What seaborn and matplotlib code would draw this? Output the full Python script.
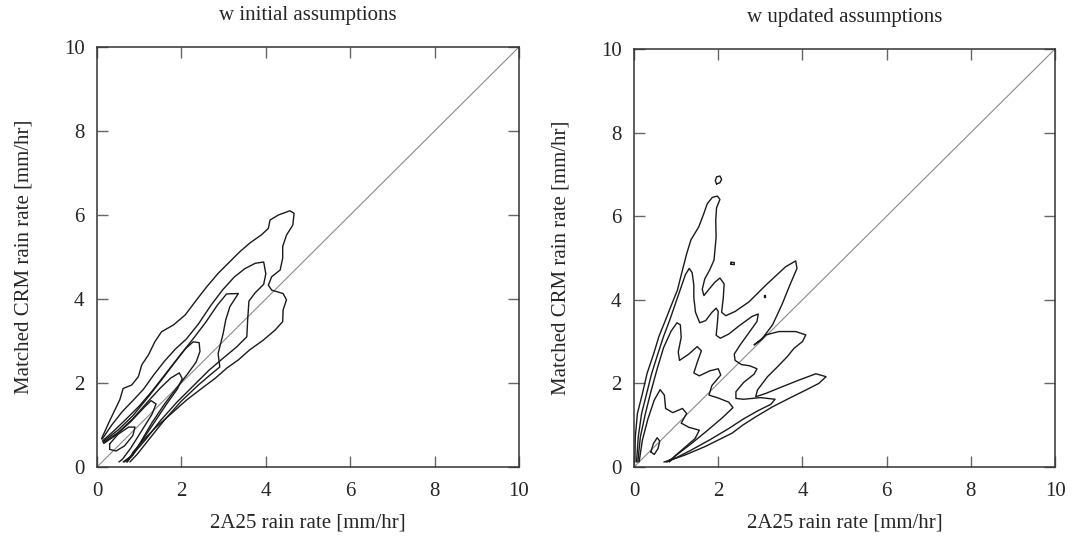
#!/usr/bin/env python3
import matplotlib
matplotlib.use("Agg")
import matplotlib.pyplot as plt
import pandas as pd
import seaborn as sns

# contour outlines (x = 2A25 rate, y = CRM rate, mm/hr)
left_c1 = [(0.11, 0.68), (0.31, 1.12), (0.54, 1.60), (0.62, 1.87), (0.82, 1.95), (0.98, 2.15),
           (1.06, 2.43), (1.22, 2.67), (1.37, 2.98), (1.53, 3.22), (1.81, 3.38), (2.09, 3.62),
           (2.36, 3.98), (2.60, 4.29), (2.87, 4.61), (3.11, 4.85), (3.39, 5.13), (3.62, 5.33),
           (3.90, 5.53), (4.06, 5.68), (4.10, 5.88), (4.30, 6.00), (4.57, 6.10), (4.67, 6.04),
           (4.64, 5.76), (4.49, 5.52), (4.40, 5.25), (4.40, 4.97), (4.34, 4.69), (4.14, 4.53),
           (4.06, 4.33), (4.14, 4.21), (4.41, 4.13), (4.49, 3.98), (4.41, 3.74), (4.40, 3.46),
           (4.22, 3.26), (3.94, 3.02), (3.62, 2.79), (3.35, 2.55), (3.07, 2.35), (2.80, 2.11),
           (2.48, 1.87), (2.13, 1.60), (1.77, 1.28), (1.41, 0.96), (1.10, 0.64), (0.86, 0.36),
           (0.72, 0.12)]
left_c2 = [(0.12, 0.66), (0.35, 1.00), (0.60, 1.32), (0.85, 1.58), (1.10, 1.85), (1.35, 2.20),
           (1.60, 2.52), (1.85, 2.80), (2.12, 3.05), (2.40, 3.40), (2.70, 3.85), (2.98, 4.22),
           (3.25, 4.52), (3.50, 4.72), (3.75, 4.85), (3.95, 4.88), (4.00, 4.60), (3.95, 4.35),
           (3.75, 4.15), (3.60, 3.95), (3.57, 3.50), (3.55, 3.10), (3.30, 2.85), (3.00, 2.60),
           (2.65, 2.30), (2.30, 1.95), (1.90, 1.55), (1.50, 1.10), (1.15, 0.65), (0.85, 0.30),
           (0.65, 0.12)]
left_c3 = [(0.13, 0.62), (0.40, 0.86), (0.70, 1.15), (1.00, 1.45), (1.30, 1.80), (1.65, 2.25),
           (2.00, 2.70), (2.30, 3.08), (2.58, 3.45), (2.85, 3.85), (3.07, 4.12), (3.35, 4.13),
           (3.15, 3.82), (3.05, 3.50), (2.99, 3.18), (2.87, 2.70), (2.91, 2.38), (2.75, 2.25),
           (2.40, 1.95), (2.00, 1.57), (1.60, 1.12), (1.25, 0.68), (0.95, 0.30), (0.78, 0.12)]
left_c4 = [(0.14, 0.60), (0.50, 0.88), (0.85, 1.22), (1.20, 1.65), (1.55, 2.10), (1.85, 2.50),
           (2.10, 2.82), (2.28, 2.98), (2.42, 2.96), (2.44, 2.75), (2.35, 2.50), (2.15, 2.22),
           (1.90, 1.90), (1.60, 1.50), (1.30, 1.05), (1.05, 0.62), (0.85, 0.28), (0.70, 0.12)]
left_c5 = [(0.15, 0.58), (0.50, 0.82), (0.85, 1.15), (1.20, 1.55), (1.50, 1.88), (1.75, 2.12),
           (1.95, 2.24), (2.02, 2.10), (1.90, 1.85), (1.65, 1.50), (1.35, 1.05), (1.05, 0.60),
           (0.80, 0.25), (0.62, 0.12)]
left_c6 = [(0.16, 0.56), (0.45, 0.76), (0.80, 1.08), (1.10, 1.40), (1.28, 1.58), (1.40, 1.50),
           (1.30, 1.25), (1.05, 0.85), (0.80, 0.45), (0.60, 0.18), (0.52, 0.12)]
left_c7 = [(0.30, 0.55), (0.50, 0.78), (0.75, 0.95), (0.90, 0.95), (0.85, 0.75), (0.65, 0.50),
           (0.45, 0.38), (0.30, 0.42), (0.30, 0.55)]

right_c1 = [(0.02, 0.12), (0.03, 0.72), (0.08, 1.28), (0.20, 1.76), (0.31, 2.24), (0.47, 2.72),
            (0.59, 3.12), (0.75, 3.52), (0.87, 3.83), (1.03, 4.23), (1.15, 4.71), (1.25, 5.10),
            (1.35, 5.43), (1.54, 5.75), (1.66, 6.07), (1.74, 6.30), (1.86, 6.45), (1.98, 6.48),
            (2.04, 6.40), (1.96, 6.20), (1.94, 5.90), (1.95, 5.50), (1.90, 4.95), (1.80, 4.72),
            (1.68, 4.50), (1.62, 4.25), (1.66, 4.10), (1.78, 4.25), (1.92, 4.42), (2.04, 4.52),
            (2.14, 4.38), (2.12, 4.05), (2.08, 3.70), (2.18, 3.62), (2.40, 3.72), (2.73, 3.95),
            (3.13, 4.35), (3.60, 4.79), (3.84, 4.93), (3.87, 4.75), (3.70, 4.35), (3.52, 3.90),
            (3.29, 3.40), (3.05, 3.08), (2.85, 2.92), (3.00, 3.02), (3.13, 3.16), (3.44, 3.24),
            (3.84, 3.24), (4.08, 3.16), (4.00, 3.00), (3.80, 2.84), (3.64, 2.64), (3.41, 2.40),
            (3.17, 2.16), (2.93, 1.84), (2.89, 1.68), (3.13, 1.76), (3.52, 1.92), (3.92, 2.08),
            (4.32, 2.23), (4.56, 2.16), (4.39, 2.00), (4.08, 1.84), (3.68, 1.64), (3.29, 1.44),
            (2.89, 1.20), (2.58, 1.00), (2.33, 0.81), (1.69, 0.49), (1.22, 0.29), (0.82, 0.15),
            (0.71, 0.12)]
right_c2 = [(0.06, 0.12), (0.10, 0.72), (0.18, 1.28), (0.30, 1.76), (0.42, 2.24), (0.57, 2.72),
            (0.70, 3.12), (0.85, 3.52), (0.98, 3.90), (1.10, 4.25), (1.22, 4.60), (1.31, 4.75),
            (1.38, 4.65), (1.42, 4.35), (1.42, 4.05), (1.46, 3.70), (1.56, 3.45), (1.70, 3.50),
            (1.85, 3.70), (1.95, 3.80), (2.00, 3.72), (1.98, 3.45), (1.95, 3.15), (2.05, 3.08),
            (2.25, 3.18), (2.50, 3.38), (2.80, 3.60), (2.95, 3.66), (2.92, 3.48), (2.72, 3.20),
            (2.52, 2.92), (2.38, 2.70), (2.40, 2.55), (2.55, 2.45), (2.75, 2.42), (2.92, 2.35),
            (2.85, 2.22), (2.60, 2.02), (2.42, 1.80), (2.42, 1.64), (2.60, 1.62), (3.00, 1.66),
            (3.35, 1.62), (3.25, 1.50), (2.95, 1.35), (2.60, 1.15), (2.25, 0.92), (1.80, 0.65),
            (1.35, 0.40), (1.00, 0.22), (0.78, 0.12)]
right_c3 = [(0.09, 0.12), (0.15, 0.72), (0.27, 1.28), (0.40, 1.80), (0.55, 2.35), (0.70, 2.85),
            (0.88, 3.25), (1.02, 3.45), (1.10, 3.40), (1.12, 3.10), (1.05, 2.75), (1.08, 2.55),
            (1.30, 2.70), (1.50, 2.88), (1.60, 2.78), (1.50, 2.50), (1.42, 2.25), (1.55, 2.18),
            (1.80, 2.30), (2.00, 2.35), (2.06, 2.20), (1.85, 1.95), (1.78, 1.72), (2.00, 1.65),
            (2.25, 1.55), (2.35, 1.42), (2.10, 1.18), (1.75, 0.88), (1.35, 0.55), (1.00, 0.28),
            (0.84, 0.12)]
right_c4 = [(0.12, 0.12), (0.20, 0.65), (0.33, 1.15), (0.48, 1.60), (0.62, 1.85), (0.72, 1.72),
            (0.75, 1.40), (0.92, 1.30), (1.15, 1.40), (1.25, 1.28), (1.12, 1.05), (1.30, 0.95),
            (1.55, 0.88), (1.45, 0.68), (1.15, 0.42), (0.90, 0.20), (0.76, 0.12)]
right_c5 = [(0.40, 0.36), (0.46, 0.56), (0.55, 0.70), (0.61, 0.62), (0.57, 0.44), (0.48, 0.30),
            (0.40, 0.36)]
right_c6 = [(1.96, 6.77), (2.04, 6.80), (2.08, 6.88), (2.04, 6.96), (1.96, 6.94), (1.93, 6.85),
            (1.96, 6.77)]
right_c7 = [(2.30, 4.85), (2.38, 4.84), (2.38, 4.89), (2.30, 4.90), (2.30, 4.85)]
right_c8 = [(3.08, 4.07), (3.10, 4.07), (3.10, 4.11), (3.08, 4.11), (3.08, 4.07)]

diag = [0, 10]
ticks = [0, 2, 4, 6, 8, 10]
titles = ["w initial assumptions", "w updated assumptions"]
xlabel = "2A25 rain rate [mm/hr]"
ylabel = "Matched CRM rain rate [mm/hr]"


def to_frame(contours):
    rows = []
    for i, pts in enumerate(contours):
        for j, (x, y) in enumerate(pts):
            rows.append({"contour": i, "order": j, "x": x, "y": y})
    return pd.DataFrame(rows)


def main() -> int:
    sns.set_style("ticks")
    plt.rcParams["font.family"] = ["Liberation Serif", "DejaVu Serif"]
    plt.rcParams["font.size"] = 15

    fig = plt.figure(figsize=(10.73, 5.38), dpi=100)
    ax_l = fig.add_axes([0.0904, 0.132, 0.3933, 0.7807])
    ax_r = fig.add_axes([0.5909, 0.132, 0.3924, 0.7770])

    panels = [
        (ax_l, [left_c1, left_c2, left_c3, left_c4, left_c5, left_c6, left_c7]),
        (ax_r, [right_c1, right_c2, right_c3, right_c4, right_c5, right_c6, right_c7,
                right_c8]),
    ]
    for (ax, contours), title in zip(panels, titles):
        sns.lineplot(x=diag, y=diag, ax=ax, color="#8a8a8a", linewidth=0.8)
        df = to_frame(contours)
        sns.lineplot(data=df, x="x", y="y", units="contour", estimator=None, sort=False,
                     ax=ax, color="#1a1a1a", linewidth=1.0)
        ax.set_xlim(0, 10)
        ax.set_ylim(0, 10)
        ax.set_xticks(ticks)
        ax.set_yticks(ticks)
        ax.tick_params(direction="in", top=True, right=True, length=8, width=1,
                       color="#666666", labelsize=15)
        ax.tick_params(axis="x", pad=11)
        ax.tick_params(axis="y", pad=9)
        for sp in ax.spines.values():
            sp.set_color("#333333")
            sp.set_linewidth(1.1)
        ax.set_title(title, fontsize=15, pad=19.5)
        ax.set_xlabel(xlabel, fontsize=15, labelpad=8.5)
        ax.set_ylabel(ylabel, fontsize=15, labelpad=22)

    fig.savefig("out.png", dpi=100, facecolor="white")
    return 0


if __name__ == "__main__":
    raise SystemExit(main())
